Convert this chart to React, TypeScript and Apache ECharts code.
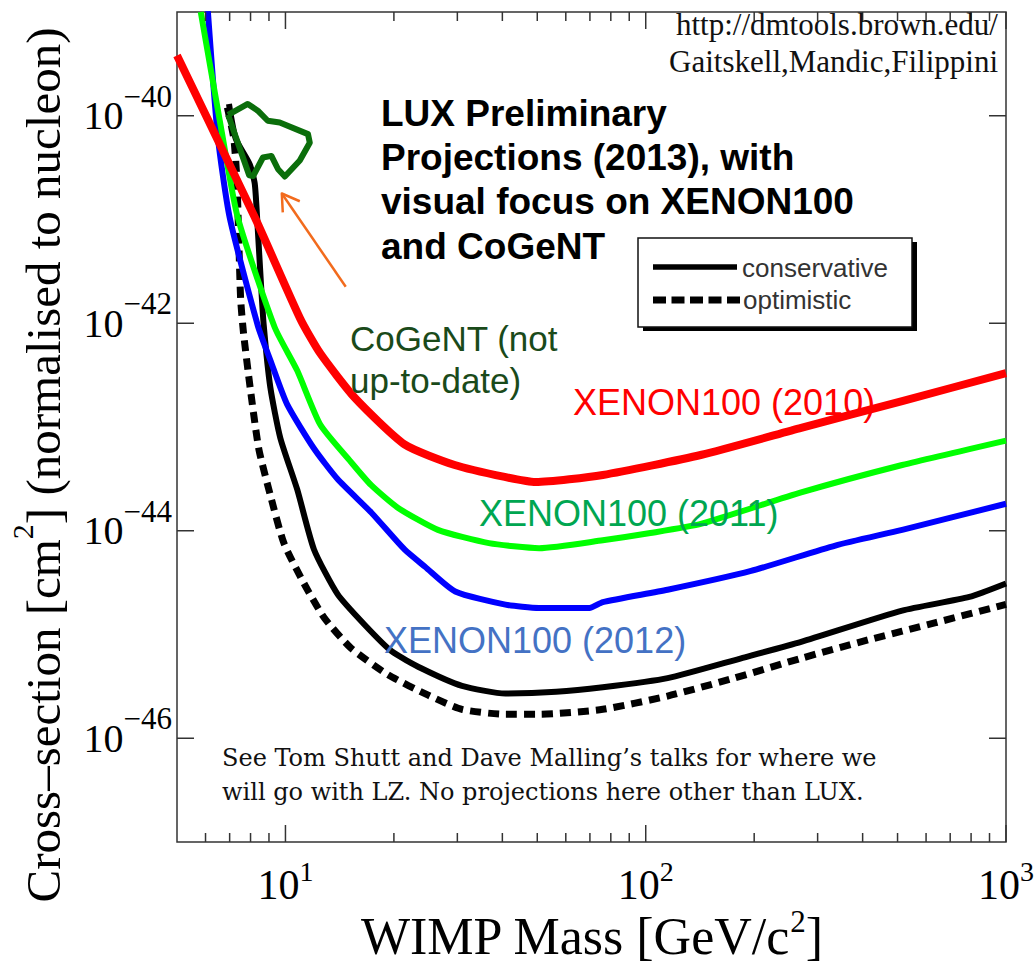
import React, { useEffect, useRef } from 'react';
import * as echarts from 'echarts';

// ---- axis ranges & ticks ----
const X_MIN = 5;
const X_MAX = 1000;
const Y_MIN = 1e-47;
const Y_MAX = 1e-39;
const X_MAJOR_TICKS = [10, 100, 1000];
const X_MINOR_TICKS = [6, 7, 8, 9, 20, 30, 40, 50, 60, 70, 80, 90, 200, 300, 400, 500, 600, 700, 800, 900];
const Y_MAJOR_TICKS = [1e-46, 1e-44, 1e-42, 1e-40];
const X_LABEL_EXPONENTS = [1, 2, 3];
const Y_LABEL_EXPONENTS = [-46, -44, -42, -40];

// ---- curves: [WIMP mass GeV, cross-section cm^2] ----
const XENON100_2010: [number, number][] = [
  [5.0, 3.8e-40], [8.22, 1.05e-41], [11.0, 1.1e-42], [12.5, 5.1e-43], [15.6, 1.9e-43],
  [21.4, 6.8e-44], [29.5, 4.3e-44], [40.6, 3.3e-44], [49.5, 2.95e-44], [76, 3.45e-44],
  [143, 5.4e-44], [270, 9.8e-44], [515, 1.78e-43], [1000, 3.3e-43],
];
const XENON100_2011: [number, number][] = [
  [5.82, 1.0e-39], [6.66, 6.9e-41], [7.37, 1.05e-41], [9.34, 9.1e-43], [10.78, 3.5e-43],
  [12.5, 1.05e-43], [15.2, 4.6e-44], [17.3, 2.75e-44], [20.5, 1.67e-44], [26.5, 1.02e-44],
  [36.7, 7.6e-45], [50.6, 6.8e-45], [76, 8.1e-45], [103, 9.5e-45], [143, 1.17e-44],
  [270, 2.34e-44], [515, 4.3e-44], [1000, 7.4e-44],
];
const XENON100_2012: [number, number][] = [
  [6.09, 1.02e-39], [6.49, 6.3e-41], [7.0, 1.05e-41], [8.38, 9.5e-43], [9.08, 4.4e-43],
  [10.1, 1.66e-43], [12.0, 6.2e-44], [13.95, 3.15e-44], [17.3, 1.5e-44], [21.4, 6.6e-45],
  [24.4, 4.5e-45], [29.6, 2.6e-45], [40.8, 1.94e-45], [50.6, 1.8e-45], [69.8, 1.8e-45],
  [76, 2.05e-45], [115, 2.7e-45], [196, 4.1e-45], [336, 7.2e-45], [515, 1.02e-44],
  [1000, 1.82e-44],
];
const LUX_CONSERVATIVE: [number, number][] = [
  [6.97, 1.3e-40], [7.28, 6.0e-41], [7.96, 3.4e-41], [8.22, 2.2e-41], [8.38, 8.0e-42],
  [8.54, 2.6e-42], [8.7, 9.7e-43], [9.08, 2.4e-43], [9.68, 7.8e-44], [10.78, 2.5e-44],
  [12.0, 6.6e-45], [13.95, 2.45e-45], [16.56, 1.25e-45], [19.7, 6.9e-46], [23.9, 4.7e-46],
  [30.9, 3.2e-46], [40.8, 2.7e-46], [56.4, 2.8e-46], [76, 3.1e-46], [115, 3.8e-46],
  [184, 5.9e-46], [270, 8.5e-46], [515, 1.7e-45], [791, 2.3e-45], [1000, 3.1e-45],
];
const LUX_OPTIMISTIC: [number, number][] = [
  [6.9, 1.2e-40], [7.19, 6.0e-41], [7.33, 2.45e-41], [7.42, 6.4e-42], [7.51, 1.7e-42],
  [7.65, 8.0e-43], [7.98, 2.4e-43], [8.43, 6.2e-44], [9.08, 2.2e-44], [9.9, 7.6e-45],
  [11.26, 3.1e-45], [12.81, 1.45e-45], [15.2, 7.4e-46], [19.25, 4.1e-46], [24.9, 2.6e-46],
  [30.9, 1.9e-46], [40.8, 1.7e-46], [50.6, 1.7e-46], [76, 1.9e-46], [115, 2.55e-46],
  [176, 3.8e-46], [270, 5.9e-46], [416, 8.9e-46], [638, 1.3e-45], [1000, 1.95e-45],
];
const COGENT_CONTOUR: [number, number][] = [
  [6.93, 1.02e-40], [7.86, 1.3e-40], [8.38, 1.12e-40], [8.93, 8.95e-41], [9.64, 8.6e-41],
  [11.55, 6.65e-41], [11.68, 5.5e-41], [10.96, 3.7e-41], [9.96, 2.6e-41], [9.54, 3.05e-41],
  [9.14, 4.1e-41], [8.66, 3.96e-41], [8.14, 2.63e-41], [7.93, 2.67e-41], [6.93, 1.02e-40],
];
const ARROW_SHAFT: [number, number][] = [[14.7, 2.25e-42], [9.77, 1.78e-41]];
const ARROW_HEAD: [number, number][] = [[9.83, 1.17e-41], [9.77, 1.78e-41], [10.96, 1.5e-41]];

const FONT_SERIF = '"Liberation Serif", "Times New Roman", serif';
const FONT_SANS = '"Liberation Sans", Arial, sans-serif';
const FONT_FOOT = '"DejaVu Serif", serif';

function supLabel(v: number, allowed: number[]): string {
  const lg = Math.log10(v);
  const e = Math.round(lg);
  if (Math.abs(lg - e) > 1e-6 || allowed.indexOf(e) < 0) return '';
  const s = e < 0 ? '\u2212' + String(-e) : String(e);
  return '{b|10}{s|' + s + '}';
}

const xLabelRich = {
  b: { fontFamily: FONT_SERIF, fontSize: 42, lineHeight: 56, verticalAlign: 'middle', color: '#000' },
  s: { fontFamily: FONT_SERIF, fontSize: 28, lineHeight: 28, verticalAlign: 'top', color: '#000' },
};
const yLabelRich = {
  b: { fontFamily: FONT_SERIF, fontSize: 40, lineHeight: 70, verticalAlign: 'middle', color: '#000' },
  s: { fontFamily: FONT_SERIF, fontSize: 31, lineHeight: 30, verticalAlign: 'top', color: '#000' },
};

function lineSeries(name: string, data: [number, number][], color: string, width: number, dash?: number[], smooth?: number) {
  return {
    type: 'line',
    name,
    data,
    symbol: 'none',
    silent: true,
    clip: true,
    smooth: smooth || false,
    lineStyle: { color, width, type: dash ? dash : 'solid', cap: 'butt', join: 'round' },
  };
}

function buildOption(): any {
  const tickStyle = { stroke: '#333', lineWidth: 1.5 };
  const xTickData = [...X_MAJOR_TICKS, ...X_MINOR_TICKS].map((v) => [v, Y_MIN]);
  const yTickData = Y_MAJOR_TICKS.map((v) => [X_MIN, v]);

  return {
    animation: false,
    backgroundColor: '#fff',
    textStyle: { fontFamily: FONT_SERIF },
    grid: {
      left: 177, right: 29, top: 12, bottom: 121,
      show: true, borderColor: '#333', borderWidth: 1.5, backgroundColor: '#fff',
      containLabel: false, outerBoundsMode: 'none',
    },
    xAxis: {
      type: 'log', logBase: 10, min: X_MIN, max: X_MAX,
      axisLine: { show: false }, axisTick: { show: false }, splitLine: { show: false },
      axisLabel: {
        formatter: (v: number) => supLabel(v, X_LABEL_EXPONENTS),
        margin: 15, rich: xLabelRich, showMinLabel: true, showMaxLabel: true,
      },
      name: 'WIMP Mass [GeV/c{s|2}]', nameLocation: 'middle', nameGap: 64, nameMoveOverlap: false,
      nameTextStyle: {
        fontFamily: FONT_SERIF, fontSize: 52, lineHeight: 60, color: '#000',
        rich: { s: { fontFamily: FONT_SERIF, fontSize: 31, lineHeight: 26, verticalAlign: 'top', color: '#000' } },
      },
    },
    yAxis: {
      type: 'log', logBase: 10, min: Y_MIN, max: Y_MAX,
      axisLine: { show: false }, axisTick: { show: false }, splitLine: { show: false },
      axisLabel: {
        formatter: (v: number) => supLabel(v, Y_LABEL_EXPONENTS),
        margin: 5, rich: yLabelRich, showMinLabel: true, showMaxLabel: true,
      },
      name: 'Cross\u2013section [cm{s|2}] (normalised to nucleon)', nameLocation: 'middle', nameGap: 98, nameRotate: 90,
      nameMoveOverlap: false,
      nameTextStyle: {
        fontFamily: FONT_SERIF, fontSize: 49, lineHeight: 72, color: '#000',
        padding: [0, 76, 0, 0],
        rich: { s: { fontFamily: FONT_SERIF, fontSize: 30, lineHeight: 24, verticalAlign: 'top', color: '#000' } },
      },
    },
    series: [
      lineSeries('LUX optimistic', LUX_OPTIMISTIC, '#000', 7, [11, 7], 0.2),
      lineSeries('LUX conservative', LUX_CONSERVATIVE, '#000', 6, undefined, 0.2),
      lineSeries('XENON100 (2012)', XENON100_2012, '#0000ff', 6, undefined, 0.2),
      lineSeries('XENON100 (2011)', XENON100_2011, '#00ff00', 6, undefined, 0.2),
      lineSeries('XENON100 (2010)', XENON100_2010, '#ff0000', 8, undefined, 0.2),
      lineSeries('CoGeNT', COGENT_CONTOUR, '#0b6e0b', 6),
      lineSeries('arrow', ARROW_SHAFT, '#f26b1d', 2.5),
      lineSeries('arrowHead', ARROW_HEAD, '#f26b1d', 2.5),
      {
        type: 'custom', name: 'xTicks', coordinateSystem: 'cartesian2d', silent: true, z: 10,
        data: xTickData,
        renderItem: (params: any, api: any) => {
          const v = api.value(0);
          const len = params.dataIndex < X_MAJOR_TICKS.length ? 17 : 9;
          const b = api.coord([v, Y_MIN]);
          const t = api.coord([v, Y_MAX]);
          return {
            type: 'group',
            children: [
              { type: 'line', shape: { x1: b[0], y1: b[1], x2: b[0], y2: b[1] - len }, style: tickStyle },
              { type: 'line', shape: { x1: t[0], y1: t[1], x2: t[0], y2: t[1] + len }, style: tickStyle },
            ],
          };
        },
      },
      {
        type: 'custom', name: 'yTicks', coordinateSystem: 'cartesian2d', silent: true, z: 10,
        data: yTickData,
        renderItem: (params: any, api: any) => {
          const v = api.value(1);
          const len = 17;
          const l = api.coord([X_MIN, v]);
          const r = api.coord([X_MAX, v]);
          return {
            type: 'group',
            children: [
              { type: 'line', shape: { x1: l[0], y1: l[1], x2: l[0] + len, y2: l[1] }, style: tickStyle },
              { type: 'line', shape: { x1: r[0], y1: r[1], x2: r[0] - len, y2: r[1] }, style: tickStyle },
            ],
          };
        },
      },
    ],
    graphic: {
      elements: [
        {
          type: 'text', x: 998, y: 6, z: 100,
          style: {
            text: 'http://dmtools.brown.edu/\nGaitskell,Mandic,Filippini',
            fontFamily: FONT_SERIF, fontSize: 31, lineHeight: 37, align: 'right', verticalAlign: 'top', fill: '#111',
          },
        },
        {
          type: 'text', x: 381, y: 91, z: 100,
          style: {
            text: 'LUX Preliminary\nProjections (2013), with\nvisual focus on XENON100\nand CoGeNT',
            fontFamily: FONT_SANS, fontWeight: 'bold', fontSize: 37, lineHeight: 44.3, align: 'left', verticalAlign: 'top', fill: '#000',
          },
        },
        {
          type: 'text', x: 350, y: 317, z: 100,
          style: {
            text: 'CoGeNT (not\nup-to-date)',
            fontFamily: FONT_SANS, fontSize: 35, lineHeight: 42.2, align: 'left', verticalAlign: 'top', fill: '#1a4a1a',
          },
        },
        {
          type: 'text', x: 573, y: 402, z: 100,
          style: { text: 'XENON100 (2010)', fontFamily: FONT_SANS, fontSize: 36, align: 'left', verticalAlign: 'middle', fill: '#ff0000' },
        },
        {
          type: 'text', x: 479, y: 513.5, z: 100,
          style: { text: 'XENON100 (2011)', fontFamily: FONT_SANS, fontSize: 36, align: 'left', verticalAlign: 'middle', fill: '#00a651' },
        },
        {
          type: 'text', x: 384, y: 640, z: 100,
          style: { text: 'XENON100 (2012)', fontFamily: FONT_SANS, fontSize: 36, align: 'left', verticalAlign: 'middle', fill: '#4472c4' },
        },
        {
          type: 'text', x: 222, y: 740.7, z: 100,
          style: {
            text: 'See Tom Shutt and Dave Malling\u2019s talks for where we\nwill go with LZ. No projections here other than LUX.',
            fontFamily: FONT_FOOT, fontSize: 24, lineHeight: 34, align: 'left', verticalAlign: 'top', fill: '#111',
          },
        },
        // legend box
        { type: 'rect', z: 100, shape: { x: 643, y: 242, width: 274, height: 89 }, style: { fill: '#000' } },
        { type: 'rect', z: 101, shape: { x: 638, y: 238, width: 274, height: 89 }, style: { fill: '#fff', stroke: '#111', lineWidth: 1.5 } },
        { type: 'line', z: 102, shape: { x1: 653, y1: 267, x2: 737, y2: 267 }, style: { stroke: '#000', lineWidth: 5.5 } },
        { type: 'line', z: 102, shape: { x1: 653, y1: 300, x2: 740, y2: 300 }, style: { stroke: '#000', lineWidth: 7, lineDash: [13, 5.5] } },
        {
          type: 'text', x: 742, y: 268, z: 102,
          style: { text: 'conservative', fontFamily: FONT_SANS, fontSize: 26, align: 'left', verticalAlign: 'middle', fill: '#333' },
        },
        {
          type: 'text', x: 743, y: 300, z: 102,
          style: { text: 'optimistic', fontFamily: FONT_SANS, fontSize: 26, align: 'left', verticalAlign: 'middle', fill: '#333' },
        },
      ],
    },
  };
}

export default function App() {
  const ref = useRef<HTMLDivElement>(null);
  useEffect(() => {
    document.body.style.margin = '0';
    if (!ref.current) return;
    const chart = echarts.init(ref.current, null, { renderer: 'svg' });
    chart.setOption(buildOption());
    return () => {
      chart.dispose();
    };
  }, []);
  return <div ref={ref} style={{ width: 1035, height: 963 }} />;
}
